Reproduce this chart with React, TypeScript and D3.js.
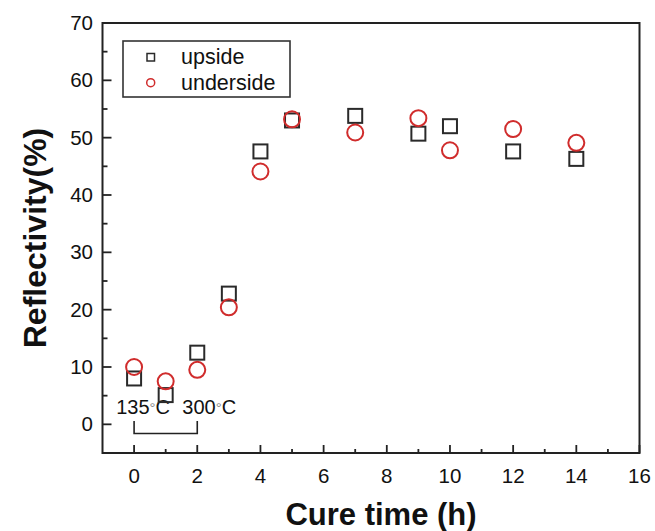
import React from 'react';
import * as d3 from 'd3';

// cure time (h)
const cureTimes = [0, 1, 2, 3, 4, 5, 7, 9, 10, 12, 14];
// reflectivity (%)
const upside = [8.0, 5.1, 12.5, 22.8, 47.6, 53.0, 53.8, 50.7, 52.0, 47.6, 46.3];
const underside = [10.0, 7.5, 9.5, 20.4, 44.1, 53.2, 50.9, 53.4, 47.8, 51.5, 49.1];

const xTicks = [0, 2, 4, 6, 8, 10, 12, 14, 16];
const xMinor = [1, 3, 5, 7, 9, 11, 13, 15];
const yTicks = [0, 10, 20, 30, 40, 50, 60, 70];
const yMinor = [-5, 5, 15, 25, 35, 45, 55, 65];

const W = 655;
const H = 531;
const FONT = "'Liberation Sans', Arial, Helvetica, sans-serif";
const AXIS = '#222';
const RED = '#d02c2c';

const App = () => {
  const x = d3.scaleLinear().domain([-1, 16]).range([102.5, 639.5]);
  const y = d3.scaleLinear().domain([-5, 70]).range([453, 23]);
  const [x0, x1] = x.range();
  const [yb, yt] = y.range();

  const sq = 14;

  return (
    <div style={{ position: 'absolute', left: 0, top: 0 }}>
      <svg width={W} height={H} style={{ display: 'block', background: '#fff' }} fontFamily={FONT}>
        {/* ticks, pointing inward */}
        {xTicks.map((t) => (
          <line key={'xt' + t} x1={x(t)} x2={x(t)} y1={yb} y2={yb - 8} stroke={AXIS} strokeWidth={1.8} />
        ))}
        {xMinor.map((t) => (
          <line key={'xm' + t} x1={x(t)} x2={x(t)} y1={yb} y2={yb - 4} stroke={AXIS} strokeWidth={1.8} />
        ))}
        {yTicks.map((t) => (
          <line key={'yt' + t} x1={x0} x2={x0 + 9} y1={y(t)} y2={y(t)} stroke={AXIS} strokeWidth={1.8} />
        ))}
        {yMinor.map((t) => (
          <line key={'ym' + t} x1={x0} x2={x0 + 5} y1={y(t)} y2={y(t)} stroke={AXIS} strokeWidth={1.8} />
        ))}

        {/* frame */}
        <rect x={x0} y={yt} width={x1 - x0} height={yb - yt} fill="none" stroke={AXIS} strokeWidth={2} />

        {/* tick labels */}
        {xTicks.map((t) => (
          <text key={'xl' + t} x={x(t)} y={483} textAnchor="middle" fontSize={20.5} fill="#111">
            {t}
          </text>
        ))}
        {yTicks.map((t) => (
          <text key={'yl' + t} x={93} y={y(t) + 7} textAnchor="end" fontSize={20.5} fill="#111">
            {t}
          </text>
        ))}

        {/* axis titles */}
        <text x={(x0 + x1) / 2 + 10} y={525} textAnchor="middle" fontSize={31} fontWeight="bold" fill="#111">
          Cure time (h)
        </text>
        <text
          transform={`translate(46,${(yb + yt) / 2}) rotate(-90)`}
          textAnchor="middle"
          fontSize={32}
          fontWeight="bold"
          fill="#111"
        >
          Reflectivity(%)
        </text>

        {/* temperature bracket */}
        <path
          d={`M${x(0)},${y(0.6)} V${y(-1.6)} H${x(2)} V${y(0.6)}`}
          fill="none"
          stroke={AXIS}
          strokeWidth={1.6}
        />
        <text x={x(0) + 9} y={414} textAnchor="middle" fontSize={20} fill="#111">
          135<tspan fill="#888" fontSize={15} dy={-1}>°</tspan><tspan dy={1}>C</tspan>
        </text>
        <text x={x(2) + 12} y={414} textAnchor="middle" fontSize={20} fill="#111">
          300<tspan fill="#888" fontSize={15} dy={-1}>°</tspan><tspan dy={1}>C</tspan>
        </text>

        {/* data */}
        {cureTimes.map((t, i) => (
          <rect
            key={'u' + t}
            x={x(t) - sq / 2}
            y={y(upside[i]) - sq / 2}
            width={sq}
            height={sq}
            fill="none"
            stroke="#2a2a2a"
            strokeWidth={2}
          />
        ))}
        {cureTimes.map((t, i) => (
          <circle key={'d' + t} cx={x(t)} cy={y(underside[i])} r={8} fill="none" stroke={RED} strokeWidth={2} />
        ))}

        {/* legend */}
        <rect x={123} y={41} width={167} height={56} fill="#fff" stroke="#333" strokeWidth={1.6} />
        <rect x={147} y={53.5} width={7.5} height={7.5} fill="none" stroke="#2a2a2a" strokeWidth={1.5} />
        <text x={181} y={64} fontSize={21.5} fill="#111">upside</text>
        <circle cx={150.7} cy={82.7} r={4} fill="none" stroke={RED} strokeWidth={1.5} />
        <text x={181} y={89.5} fontSize={21.5} fill="#111">underside</text>
      </svg>
    </div>
  );
};

export default App;
